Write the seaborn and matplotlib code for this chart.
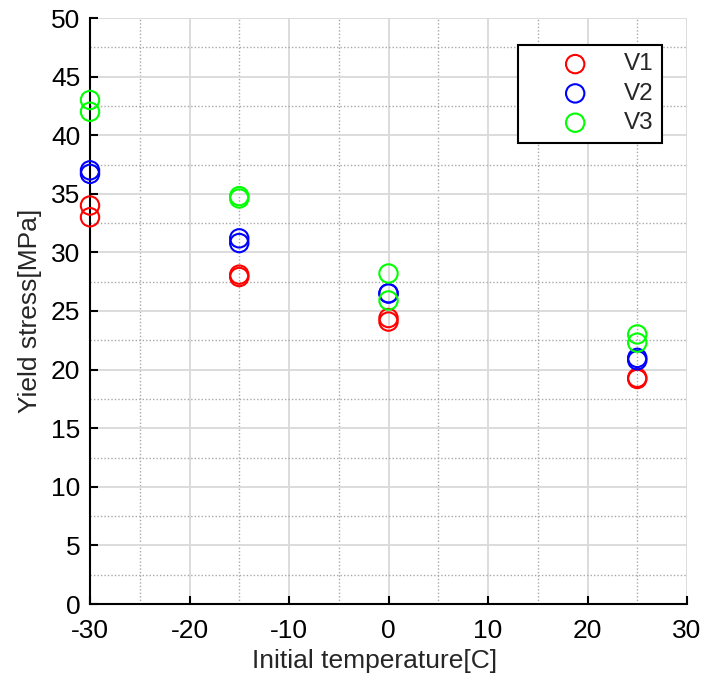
import numpy as np
import pandas as pd
import matplotlib
matplotlib.use("Agg")
import matplotlib.pyplot as plt
import seaborn as sns
from matplotlib.ticker import MultipleLocator

# Data
series_names = ["V1", "V2", "V3"]
colors = ["#ff0000", "#0000ff", "#00ff00"]
temps = [-30, -30, -15, -15, 0, 0, 25, 25]
v1 = [34.0, 33.0, 28.1, 27.9, 24.4, 24.1, 19.3, 19.2]
v2 = [37.0, 36.7, 31.2, 30.8, 26.5, 26.5, 21.0, 20.8]
v3 = [43.0, 42.0, 34.8, 34.6, 28.2, 25.9, 23.0, 22.3]
xticks = [-30, -20, -10, 0, 10, 20, 30]
yticks = [0, 5, 10, 15, 20, 25, 30, 35, 40, 45, 50]

sns.set_style("white")
plt.rcParams['font.family'] = ['Liberation Sans', 'DejaVu Sans']

fig = plt.figure(figsize=(7.05, 6.86), dpi=100)
ax = fig.add_axes([90/705, 82/686, 597/705, 586/686])

for name, col, vals in zip(series_names, colors, [v1, v2, v3]):
    df = pd.DataFrame({"T": temps, "Y": vals})
    sns.scatterplot(data=df, x="T", y="Y", color=col, s=175, marker="o",
                    linewidth=1.5, ax=ax, legend=False, zorder=3)
    coll = ax.collections[-1]
    coll.set_facecolor("none")
    coll.set_edgecolor(col)
    coll.set_label(name)
    coll.set_clip_on(False)

ax.set_xlim(-30, 30)
ax.set_ylim(0, 50)
ax.set_xticks(xticks)
ax.set_yticks(yticks)
ax.set_xticklabels([str(t) for t in xticks])
ax.set_yticklabels([str(t) for t in yticks])
ax.xaxis.set_minor_locator(MultipleLocator(5))
ax.yaxis.set_minor_locator(MultipleLocator(2.5))

ax.grid(True, which="major", color="#d9d9d9", linewidth=1.3, linestyle="-", zorder=0)
ax.grid(True, which="minor", color="#a8a8a8", linewidth=1.0, linestyle=(0, (1, 1.5)), zorder=0)
ax.set_axisbelow(True)

for s in ["top", "right"]:
    ax.spines[s].set_visible(False)
for s in ["left", "bottom"]:
    ax.spines[s].set_color("black")
    ax.spines[s].set_linewidth(1.5)

ax.tick_params(which="major", direction="in", length=6, width=1.5, labelsize=19,
               colors="black", left=True, bottom=True, top=False, right=False)
ax.tick_params(axis="x", which="major", pad=11)
ax.tick_params(axis="y", which="major", pad=7)
ax.tick_params(which="minor", length=0)

ax.set_xlabel("Initial temperature[C]", fontsize=19)
ax.set_ylabel("Yield stress[MPa]", fontsize=19)
ax.xaxis.set_label_coords(0.4765, -0.076)
ax.yaxis.set_label_coords(-0.081, 0.5)

leg = ax.legend(loc="upper right", bbox_to_anchor=(0.958, 0.954), fontsize=17.5,
                frameon=True, fancybox=False, framealpha=1, edgecolor="black",
                handletextpad=0.0, borderpad=0.35, labelspacing=0.3,
                borderaxespad=0, handlelength=4.0)
leg.get_frame().set_linewidth(1.5)

fig.savefig("out.png", dpi=100)
